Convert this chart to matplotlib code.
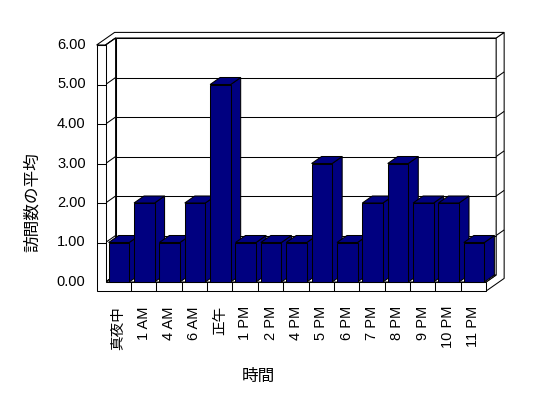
import matplotlib
matplotlib.use("Agg")
import matplotlib.pyplot as plt
from matplotlib.patches import Polygon

categories = ['真夜中', '1 AM', '4 AM', '6 AM', '正午', '1 PM', '2 PM', '4 PM',
              '5 PM', '6 PM', '7 PM', '8 PM', '9 PM', '10 PM', '11 PM']
values = [1, 2, 1, 2, 5, 1, 1, 1, 3, 1, 2, 3, 2, 2, 1]
y_ticks = [0, 1, 2, 3, 4, 5, 6]
y_tick_labels = ['0.00', '1.00', '2.00', '3.00', '4.00', '5.00', '6.00']
x_title = '時間'
y_title = '訪問数の平均'

FAM = ['Liberation Sans', 'Noto Sans CJK JP']
BAR = '#000080'
LW = 0.75

W, H = 548, 398
fig = plt.figure(figsize=(W / 100, H / 100), dpi=100)
ax = fig.add_axes([0, 0, 1, 1])
ax.axis('off')

# pixel scale of the front plane (data -> pixel)
CAT_PX = 25.37
VAL_PX = 39.5
X0_PX, Y0_PX = 105.6, 282.0
ax.set_xlim(-X0_PX / CAT_PX, (W - X0_PX) / CAT_PX)
ax.set_ylim(-(H - Y0_PX) / VAL_PX, Y0_PX / VAL_PX)

n = len(categories)
ymax = y_ticks[-1]
DX = 10 / CAT_PX     # depth shift (x) for z = 1
DY = 7 / VAL_PX      # depth shift (y) for z = 1
WT = 9 / CAT_PX      # left wall thickness
FT = 9 / VAL_PX      # floor thickness
BT = 0.8             # back wall thickness (depth units)


def P(x, y, z):
    return (x + z * DX, y + z * DY)


def poly(pts, fc='white', z=1):
    ax.add_patch(Polygon(pts, closed=True, facecolor=fc, edgecolor='black',
                         linewidth=LW, zorder=z, joinstyle='miter'))


def line(a, b, z=2):
    ax.plot([a[0], b[0]], [a[1], b[1]], color='black', lw=LW, zorder=z,
            solid_capstyle='butt')


# back wall front face
poly([P(0, 0, 1), P(n, 0, 1), P(n, ymax, 1), P(0, ymax, 1)])
# right face (floor + back wall)
poly([P(n, -FT, 0), P(n, 0, 0), P(n, 0, 1), P(n, ymax, 1),
      P(n, ymax, 1 + BT), P(n, -FT, 1 + BT)])
# top of walls
poly([P(-WT, ymax, 0), P(0, ymax, 0), P(0, ymax, 1), P(n, ymax, 1),
      P(n, ymax, 1 + BT), P(-WT, ymax, 1 + BT)])
# left wall inner face
poly([P(0, 0, 0), P(0, 0, 1), P(0, ymax, 1), P(0, ymax, 0)])
# floor top
poly([P(0, 0, 0), P(n, 0, 0), P(n, 0, 1), P(0, 0, 1)])

# gridlines
for v in y_ticks[1:-1]:
    line(P(0, v, 1), P(n, v, 1))
    line(P(n, v, 1), P(n, v, 1 + BT))
for v in y_ticks:
    line(P(0, v, 0), P(0, v, 1))

# front L face (left wall front + floor front)
poly([P(-WT, -FT, 0), P(n, -FT, 0), P(n, 0, 0), P(0, 0, 0),
      P(0, ymax, 0), P(-WT, ymax, 0)], z=3)
for v in y_ticks[1:]:
    line(P(-WT, v, 0), P(0, v, 0), z=4)
for c in range(1, n):
    line(P(c, -FT, 0), P(c, 0, 0), z=4)

# bars
B0, BW = 0.12, 0.81
bars = ax.bar([i + B0 for i in range(n)], values, width=BW, align='edge',
              color=BAR, edgecolor='black', linewidth=LW)
for i, (rect, v) in enumerate(zip(bars.patches, values)):
    zb = 10 + i
    x0, x1 = i + B0, i + B0 + BW
    poly([P(x1, 0, 0), P(x1, 0, 1), P(x1, v, 1), P(x1, v, 0)], fc=BAR, z=zb)
    poly([P(x0, v, 0), P(x1, v, 0), P(x1, v, 1), P(x0, v, 1)], fc=BAR, z=zb)
    rect.set_zorder(zb + 0.5)

# tick labels
for v, lab in zip(y_ticks, y_tick_labels):
    ax.text(-WT - 11 / CAT_PX, v, lab, ha='right', va='center',
            fontsize=10.5, family=FAM, zorder=50)
for i, lab in enumerate(categories):
    ax.text(i + 0.5, -FT - 15 / VAL_PX, lab, ha='center', va='top',
            rotation=90, fontsize=10.5, family=FAM, zorder=50)

fig.text(258 / W, 1 - 376 / H, x_title, ha='center', va='center',
         fontsize=12, family=FAM)
fig.text(32 / W, 1 - 202 / H, y_title, ha='center', va='center',
         rotation=90, fontsize=12, family=FAM)

fig.savefig('out.png', dpi=100)
